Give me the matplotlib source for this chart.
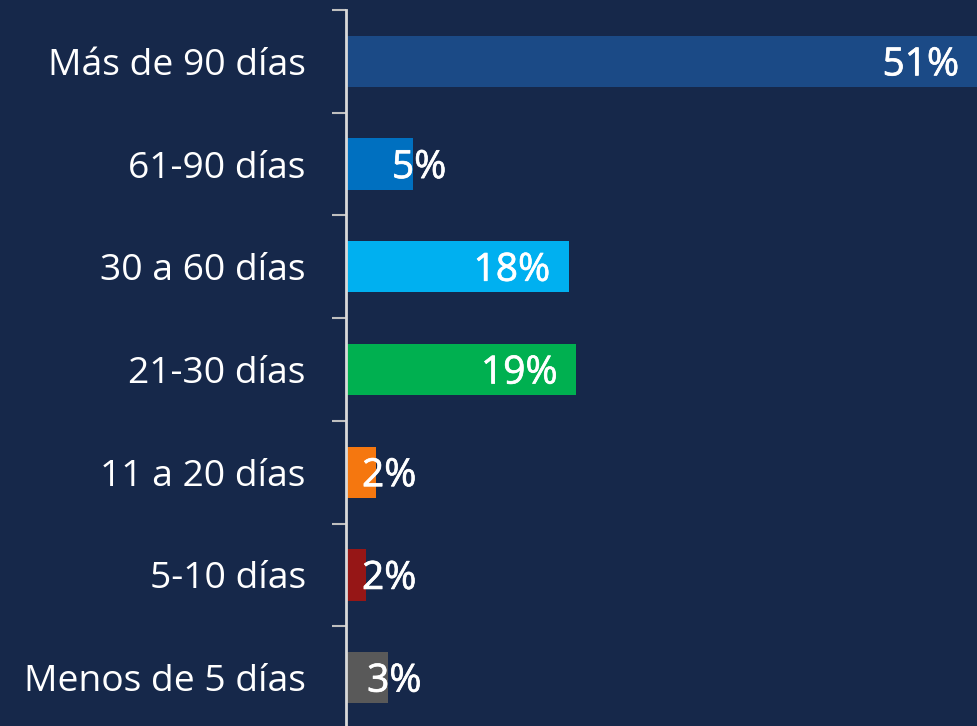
import matplotlib
matplotlib.use("Agg")
import matplotlib.pyplot as plt
import matplotlib.patheffects as pe

categories = ["Más de 90 días", "61-90 días", "30 a 60 días", "21-30 días",
              "11 a 20 días", "5-10 días", "Menos de 5 días"]
values = [51.0, 5.4, 18.0, 18.6, 2.4, 1.6, 3.4]
labels = ["51%", "5%", "18%", "19%", "2%", "2%", "3%"]
colors = ["#1b4a86", "#0070c0", "#00b0f0", "#00b050", "#f5770f", "#961616", "#595959"]

BG = "#16284a"
W, H, DPI = 978, 726, 100
FAM = ["Open Sans", "DejaVu Sans"]

fig = plt.figure(figsize=(W / DPI, H / DPI), dpi=DPI, facecolor=BG)
ax = fig.add_axes([346 / W, -3 / H, 1 - 346 / W, 719 / H])
ax.set_facecolor(BG)

y = list(range(len(categories)))
ax.barh(y, values, height=0.5, color=colors, zorder=2)
ax.set_xlim(0, 51)
ax.set_ylim(len(categories) - 0.5, -0.5)

for s in ["top", "right", "bottom"]:
    ax.spines[s].set_visible(False)
ax.spines["left"].set_color("#d9d9d9")
ax.spines["left"].set_linewidth(2)
ax.spines["left"].set_zorder(3)
ax.set_xticks([])

ax.set_yticks(y)
ax.set_yticklabels(categories, fontsize=26.8, color="white", family=FAM)
ax.tick_params(axis="y", which="major", length=0, pad=29)
ax.set_yticks([i - 0.5 for i in range(len(categories) + 1)], minor=True)
ax.tick_params(axis="y", which="minor", length=10, width=1.5, color="#bfbfbf", direction="out")

fig.canvas.draw()
px_per_unit = (ax.transData.transform((1, 0))[0] - ax.transData.transform((0, 0))[0])
for i, (v, lab) in enumerate(zip(values, labels)):
    bar_px = v * px_per_unit
    if v > 10:
        off, ha = -19, "right"
    else:
        off, ha = max(-21, 16 - bar_px), "left"
    ax.annotate(lab, xy=(v, i), xytext=(off, -4), textcoords="offset pixels",
                ha=ha, va="center", fontsize=28, color="white",
                family=FAM, zorder=4,
                path_effects=[pe.withStroke(linewidth=0.5, foreground="white")])

fig.savefig("out.png", dpi=DPI, facecolor=BG)
